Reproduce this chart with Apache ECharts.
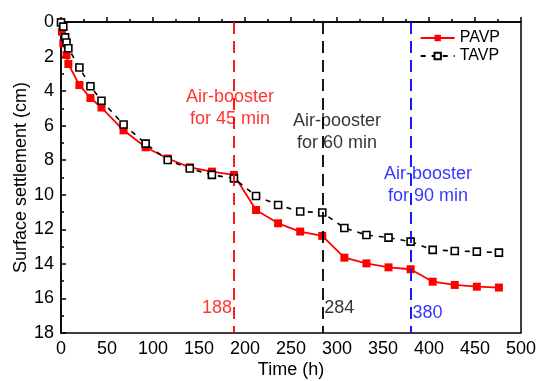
<!DOCTYPE html>
<html><head><meta charset="utf-8">
<script src="https://cdn.jsdelivr.net/npm/echarts@6/dist/echarts.min.js"></script>
<style>html,body{margin:0;padding:0;background:#fff}#c{width:538px;height:381px}</style>
</head><body><div id="c"></div>
<script>
const pavpTime = [0, 1, 2.5, 6, 8, 20, 32, 44, 68, 92, 116, 140, 164, 188, 212, 236, 260, 284, 308, 332, 356, 380, 404, 428, 452, 476];
const pavpSettle = [0, 0.56, 1.23, 1.91, 2.43, 3.65, 4.4, 4.95, 6.27, 7.25, 7.9, 8.41, 8.66, 8.85, 10.88, 11.65, 12.13, 12.38, 13.64, 13.97, 14.2, 14.31, 15.03, 15.22, 15.32, 15.37];
const tavpTime = [0, 2.5, 4.5, 6, 8, 20, 32, 44, 68, 92, 116, 140, 164, 188, 212, 236, 260, 284, 308, 332, 356, 380, 404, 428, 452, 476];
const tavpSettle = [0.03, 0.27, 0.89, 1.19, 1.52, 2.63, 3.72, 4.56, 5.93, 7.04, 7.99, 8.48, 8.85, 9.05, 10.07, 10.59, 10.97, 11.03, 11.92, 12.33, 12.48, 12.71, 13.19, 13.25, 13.29, 13.35];
const boosterTimes = [188, 284, 380];
const boosterColors = ['#ff0000', '#000000', '#0000ff'];
const boosterTexts = ['Air-booster\nfor 45 min', 'Air-booster\nfor 60 min', 'Air-booster\nfor 90 min'];
const boosterTextPos = [[183.7, 4.98], [300, 6.37], [399, 9.43]];
const boosterNumY = [16.55, 16.55, 16.84];
const xTicks = {min: 0, max: 500, interval: 50};
const yTicks = {min: 0, max: 18, interval: 2};

const font = 'Liberation Sans, Arial, sans-serif';
const chart = echarts.init(document.getElementById('c'), null, {renderer: 'canvas'});
const zip = (a, b) => a.map((v, i) => [v, b[i]]);

const series = [
  {
    name: 'PAVP', type: 'line', data: zip(pavpTime, pavpSettle),
    symbol: 'rect', symbolSize: 8, color: '#ff0000',
    lineStyle: {color: '#ff0000', width: 1.8},
    itemStyle: {color: '#ff0000'}, z: 3
  },
  {
    name: 'TAVP', type: 'line', data: zip(tavpTime, tavpSettle),
    symbol: 'rect', symbolSize: 7, color: '#000',
    lineStyle: {color: '#000', width: 1.6, type: [5, 6]},
    itemStyle: {color: '#fff', borderColor: '#000', borderWidth: 1.6}, z: 4
  }
];
boosterTimes.forEach((t, i) => {
  series.push({
    type: 'line', data: [], silent: true,
    markLine: {
      silent: true, symbol: 'none', label: {show: false},
      lineStyle: {color: boosterColors[i], width: 1.8, type: [12, 7]},
      data: [{xAxis: t}]
    }
  });
  series.push({
    type: 'scatter', silent: true, symbolSize: 0,
    data: [[boosterTextPos[i][0], boosterTextPos[i][1]]],
    label: {show: true, position: 'inside', formatter: boosterTexts[i], color: boosterColors[i],
      fontFamily: font, fontSize: 18, lineHeight: 22, align: 'center', verticalAlign: 'middle'}
  });
  series.push({
    type: 'scatter', silent: true, symbolSize: 0,
    data: [[t, boosterNumY[i]]],
    label: {show: true, position: i === 0 ? 'left' : 'right', distance: 2, formatter: String(t),
      color: boosterColors[i], fontFamily: font, fontSize: 18}
  });
});

chart.setOption({
  animation: false,
  backgroundColor: '#fff',
  grid: {left: 61, top: 22, right: 17, bottom: 48, outerBoundsMode: 'none', show: true, borderColor: '#000', borderWidth: 1.5, backgroundColor: 'transparent'},
  legend: {
    data: ['PAVP', 'TAVP'], orient: 'vertical', right: 33, top: 25,
    itemWidth: 34, itemHeight: 8, itemGap: 2,
    textStyle: {fontFamily: font, fontSize: 16, color: '#000'}
  },
  xAxis: {
    type: 'value', min: xTicks.min, max: xTicks.max, interval: xTicks.interval,
    name: 'Time (h)', nameLocation: 'middle', nameGap: 28, nameMoveOverlap: false,
    nameTextStyle: {fontFamily: font, fontSize: 18, color: '#000'},
    axisLine: {lineStyle: {color: '#000', width: 1.5}},
    axisTick: {inside: true, length: 5, lineStyle: {color: '#000', width: 1.5}},
    minorTick: {show: true, splitNumber: 2, length: 3, lineStyle: {color: '#000', width: 1.5}},
    axisLabel: {fontFamily: font, fontSize: 18, color: '#000', margin: 7},
    splitLine: {show: false}
  },
  yAxis: {
    type: 'value', inverse: true, min: yTicks.min, max: yTicks.max, interval: yTicks.interval,
    name: 'Surface settlement (cm)', nameLocation: 'middle', nameGap: 31, nameMoveOverlap: false,
    nameTextStyle: {fontFamily: font, fontSize: 18, color: '#000'},
    axisLine: {lineStyle: {color: '#000', width: 1.5}},
    axisTick: {inside: true, length: 5, lineStyle: {color: '#000', width: 1.5}},
    minorTick: {show: true, splitNumber: 2, length: 3, lineStyle: {color: '#000', width: 1.5}},
    axisLabel: {fontFamily: font, fontSize: 18, color: '#000', margin: 7},
    splitLine: {show: false}
  },
  series: series
});
</script></body></html>
